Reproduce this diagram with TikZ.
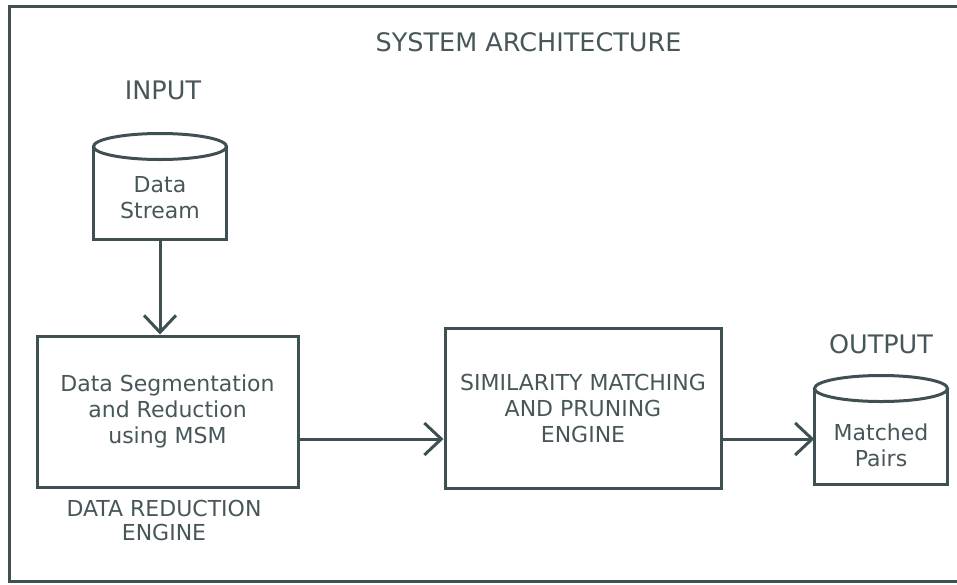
\documentclass[tikz,border=0pt]{standalone}
\usepackage{fontspec}
\setmainfont{DejaVu Sans}
\usetikzlibrary{arrows.meta}

\definecolor{linegray}{HTML}{3E5052}
\definecolor{textgray}{HTML}{475759}

\tikzset{
  heading/.style={text=textgray, inner sep=0pt, font=\fontsize{25.5}{30}\selectfont},
  bodytext/.style={text=textgray, inner sep=0pt, align=center, font=\fontsize{22}{26}\selectfont},
  engine/.style={bodytext, draw=linegray, line width=3pt},
  store/.style={bodytext, minimum width=133pt},
  flow/.style={draw=linegray, line width=3pt, -{Straight Barb[length=17pt,width=32pt]}},
}

\begin{document}
\begin{tikzpicture}[x=1pt,y=-1pt]
    \useasboundingbox (0,0) rectangle (957,584);

    % Draw the frame (open on the right)
    \draw[linegray, line width=3pt] (957,6) -- (9,6) -- (9,581) -- (957,581);

    % Headings
    \node[heading] (sysarch) at (528.5,42.5) {SYSTEM ARCHITECTURE};
    \node[heading] (input) at (163,90) {INPUT};
    \node[heading] (output) at (881,344.5) {OUTPUT};

    % Stores and engines
    \node[store, minimum height=83pt] (stream) at (160,197.5) {Data\\Stream};
    \node[store, minimum height=77pt] (pairs) at (881,445.5) {Matched\\Pairs};
    \node[engine, minimum width=261pt, minimum height=151pt] (segment) at (167.5,411.5)
      {Data Segmentation\\and Reduction\\using MSM};
    \node[engine, minimum width=276pt, minimum height=160pt] (matching) at (583,408)
      {SIMILARITY MATCHING\\AND PRUNING\\ENGINE};
    \node[bodytext, font=\fontsize{22}{24}\selectfont] (reduction) at (164,520)
      {DATA REDUCTION\\ENGINE};

    % Draw the cylinder outlines
    \foreach \s/\top in {stream/146.5, pairs/388.5} {
        \draw[linegray, line width=3pt] (\s.west |- 0,\top) -- (\s.south west)
          -- (\s.south east) -- (\s.east |- 0,\top);
        \draw[linegray, line width=3pt, fill=white] (\s.center |- 0,\top)
          ellipse [x radius=66.5pt, y radius=13pt];
      }

    % Draw the arrows
    \coordinate (flowline) at (0,439);
    \draw[flow] (stream.south) -- (stream.south |- segment.north);
    \draw[flow] (segment.east |- flowline) -- (matching.west |- flowline);
    \draw[flow] (matching.east |- flowline) -- (pairs.west |- flowline);
  \end{tikzpicture}
\end{document}
